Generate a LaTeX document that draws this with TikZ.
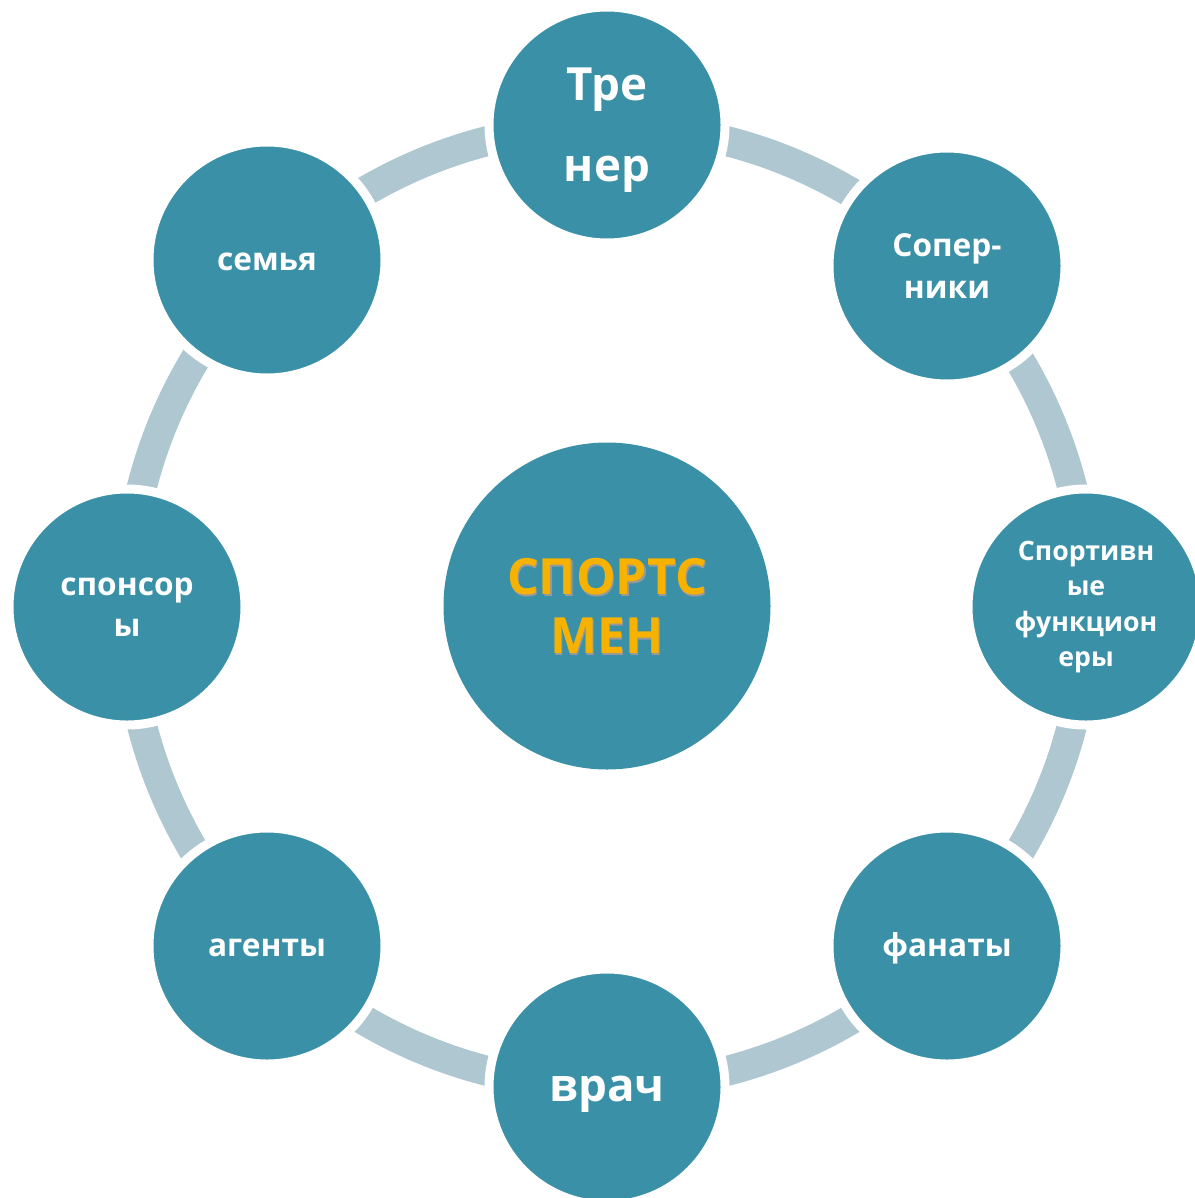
\documentclass[tikz,border=0pt]{standalone}
\usepackage{fontspec}
\setmainfont{Open Sans}
\usepackage{xcolor}
\definecolor{tealbox}{HTML}{3A91A7}
\definecolor{ringgray}{HTML}{AEC7D1}
\definecolor{goldtext}{HTML}{F7B200}

\begin{document}
\begin{tikzpicture}[y=-1cm,
    member/.style={circle, fill=tealbox, draw=white, line width=0.09cm,
        minimum size=2.36cm, inner sep=0pt, align=center, text=white},
    hub/.style={circle, fill=tealbox, minimum size=3.27cm, inner sep=0pt,
        align=center, text=goldtext},
    ring/.style={ringgray, line width=0.3cm},
    bigfont/.style={font=\bfseries\fontsize{13}{23.3}\selectfont},
    midfont/.style={font=\bfseries\fontsize{9}{11.8}\selectfont},
    smallfont/.style={font=\bfseries\fontsize{7.6}{10}\selectfont},
    oneline/.style={text height=#1, text depth=0pt}]
    \useasboundingbox (0,0) rectangle (11.94,11.98);

    % centre
    \node (hub) at (6.07,6.06) [hub] {};
    \node (hubshadow) at (6.085,6.075) [align=center, text=black!40, font=\bfseries\fontsize{14.2}{16.8}\selectfont] {СПОРТС\\МЕН};
    \node (hubtext) at (6.07,6.06) [align=center, text=goldtext, font=\bfseries\fontsize{14.2}{16.8}\selectfont] {СПОРТС\\МЕН};

    % ring behind the circles
    \draw [ring] (hub.center) circle (4.8cm);

    % circles round the ring
    \node (trener) at (6.07,1.25) [member, bigfont, oneline=32.4pt] {Тре\\нер};
    \node (soperniki) at (9.47,2.66) [member, midfont] {Сопер-\\ники};
    \node (funkc) at (10.86,6.07) [member, smallfont] {Спортивн\\ые\\функцион\\еры};
    \node (fanaty) at (9.47,9.46) [member, midfont, oneline=6pt] {фанаты};
    \node (vrach) at (6.07,10.87) [member, bigfont, oneline=8.5pt] {врач};
    \node (agenty) at (2.67,9.46) [member, midfont, oneline=6pt] {агенты};
    \node (sponsory) at (1.27,6.07) [member, midfont] {спонсор\\ы};
    \node (semya) at (2.67,2.60) [member, midfont, oneline=5.7pt] {семья};
\end{tikzpicture}
\end{document}
